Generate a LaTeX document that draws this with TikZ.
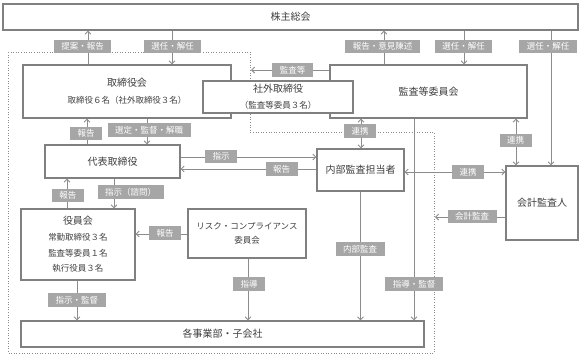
\documentclass[tikz,border=0pt]{standalone}
\usepackage{fontspec}
\setmainfont{Noto Sans CJK JP}
\usetikzlibrary{arrows.meta,backgrounds}
\definecolor{framegray}{RGB}{128,128,128}
\definecolor{linegray}{RGB}{140,140,140}
\definecolor{taggray}{RGB}{166,166,166}
\definecolor{textgray}{RGB}{64,64,64}

\begin{document}
\begin{tikzpicture}[
  x=1pt, y=-1pt,
  box/.style={
    draw=framegray,
    line width=1.2pt,
    fill=white,
    text=textgray,
    inner sep=0pt,
    align=center,
    font=\fontsize{10}{16}\selectfont
  },
  tag/.style={
    fill=taggray,
    text=white,
    inner xsep=7.5pt,
    inner ysep=0pt,
    minimum height=13.5pt,
    font=\fontsize{8.5}{10}\selectfont
  },
  conn/.style={
    draw=linegray,
    line width=0.9pt,
    -{Straight Barb[length=3pt,width=6pt]}
  },
  twoway/.style={
    conn,
    {Straight Barb[length=3pt,width=6pt]}-{Straight Barb[length=3pt,width=6pt]}
  }
]
\useasboundingbox (0,0) rectangle (587,362);

% -------- Boxes --------
\node[box, minimum width=575pt, minimum height=26pt] (kabunushi) at (290.5,17) {株主総会};

\node[box, minimum width=208pt, minimum height=53pt, font=\fontsize{10}{17}\selectfont] (torishimari) at (127,91.5)
{取締役会\\{\fontsize{8.5}{17}\selectfont 取締役６名（社外取締役３名）}};

\node[box, minimum width=197pt, minimum height=53pt] (kansa) at (428.5,91.5) {監査等委員会};

\node[box, minimum width=150pt, minimum height=32pt] (shagai) at (278,97)
{社外取締役\\{\fontsize{8.5}{16}\selectfont （監査等委員３名）}};

\node[box, minimum width=135pt, minimum height=33pt] (daihyo) at (112.5,161.5) {代表取締役};

\node[box, minimum width=87pt, minimum height=42pt] (naibu) at (360.5,170) {内部監査担当者};

\node[box, minimum width=72pt, minimum height=74pt] (kaikei) at (542,203) {会計監査人};

\node[box, minimum width=114pt, minimum height=71pt, font=\fontsize{10}{15.7}\selectfont] (yakuin) at (78,244.5)
{役員会\\{\fontsize{8.5}{15.7}\selectfont 常勤取締役３名}\\{\fontsize{8.5}{15.7}\selectfont 監査等委員１名}\\{\fontsize{8.5}{15.7}\selectfont 執行役員３名}};

\node[box, minimum width=118pt, minimum height=49pt, font=\fontsize{8.5}{14}\selectfont] (risk) at (247,233.5)
{リスク・コンプライアンス\\委員会};

\node[box, minimum width=403pt, minimum height=26pt] (jigyo) at (222.5,334) {各事業部・子会社};

% -------- Executive area (dotted) --------
\coordinate (waku_kansa) at (251,70);
\coordinate (waku_kaikei) at (435,217);

\begin{scope}[on background layer]
\draw[linegray, dotted, line width=0.6pt]
  (8,52) -- (250,52) -- (250,132) -- (434,132) -- (434,353) -- (8,353) -- cycle;

% -------- Connectors --------
\draw[conn] (torishimari.north -| 88,0) -- (kabunushi.south -| 88,0);
\draw[conn] (kabunushi.south -| 172,0) -- (torishimari.north -| 172,0);
\draw[conn] (kansa.north -| 384,0) -- (kabunushi.south -| 384,0);
\draw[conn] (kabunushi.south -| 464,0) -- (kansa.north -| 464,0);
\draw[conn] (kabunushi.south -| 551,0) -- (kaikei.north -| 551,0);
\draw[conn] (kansa.west |- waku_kansa) -- (waku_kansa);
\draw[conn] (daihyo.north -| 87,0) -- (torishimari.south -| 87,0);
\draw[conn] (torishimari.south -| 147,0) -- (daihyo.north -| 147,0);
\draw[conn] (daihyo.east |- 0,157) -- (naibu.west |- 0,157);
\draw[conn] (naibu.west |- 0,169) -- (daihyo.east |- 0,169);
\draw[conn] (daihyo.south -| 114,0) -- (yakuin.north -| 114,0);
\draw[conn] (yakuin.north -| 67,0) -- (daihyo.south -| 67,0);
\draw[conn] (risk.west |- 0,234) -- (yakuin.east |- 0,234);
\draw[conn] (yakuin.south -| 77,0) -- (jigyo.north -| 77,0);
\draw[conn] (risk.south -| 248,0) -- (jigyo.north -| 248,0);
\draw[conn] (naibu.south) -- (jigyo.north -| naibu.south);
\draw[conn] (kansa.south -| 414,0) -- (jigyo.north -| 414,0);
\draw[twoway] (kansa.south -| 361,0) -- (naibu.north -| 361,0);
\draw[twoway] (kansa.south -| 516,0) -- (kaikei.north -| 516,0);
\draw[twoway] (naibu.east |- 0,172) -- (kaikei.west |- 0,172);
\draw[conn] (kaikei.west |- waku_kaikei) -- (waku_kaikei);
\end{scope}

% -------- Labels --------
\node[tag] (t_teian) at (82.5,46.5) {提案・報告};
\node[tag] (t_senin1) at (172.5,46.5) {選任・解任};
\node[tag] (t_iken) at (382.5,46.5) {報告・意見陳述};
\node[tag] (t_senin2) at (463.5,46.5) {選任・解任};
\node[tag] (t_senin3) at (548,46.5) {選任・解任};
\node[tag] (t_kansatou) at (292.5,70) {監査等};
\node[tag] (t_houkoku1) at (86,133.5) {報告};
\node[tag] (t_sentei) at (149,130) {選定・監督・解職};
\node[tag] (t_shiji) at (221,156.5) {指示};
\node[tag] (t_houkoku2) at (281.5,169) {報告};
\node[tag] (t_shimon) at (130.5,192) {指示（諮問）};
\node[tag] (t_houkoku3) at (68,195.5) {報告};
\node[tag] (t_houkoku4) at (165,233) {報告};
\node[tag] (t_kantoku) at (77,300) {指示・監督};
\node[tag] (t_shidou) at (249,284) {指導};
\node[tag] (t_naibu) at (360,249) {内部監査};
\node[tag] (t_shidou2) at (414,284) {指導・監督};
\node[tag] (t_renkei1) at (360,131) {連携};
\node[tag] (t_renkei2) at (515.5,140.5) {連携};
\node[tag] (t_renkei3) at (468,172) {連携};
\node[tag] (t_kaikei) at (472,216.5) {会計監査};

\end{tikzpicture}
\end{document}
